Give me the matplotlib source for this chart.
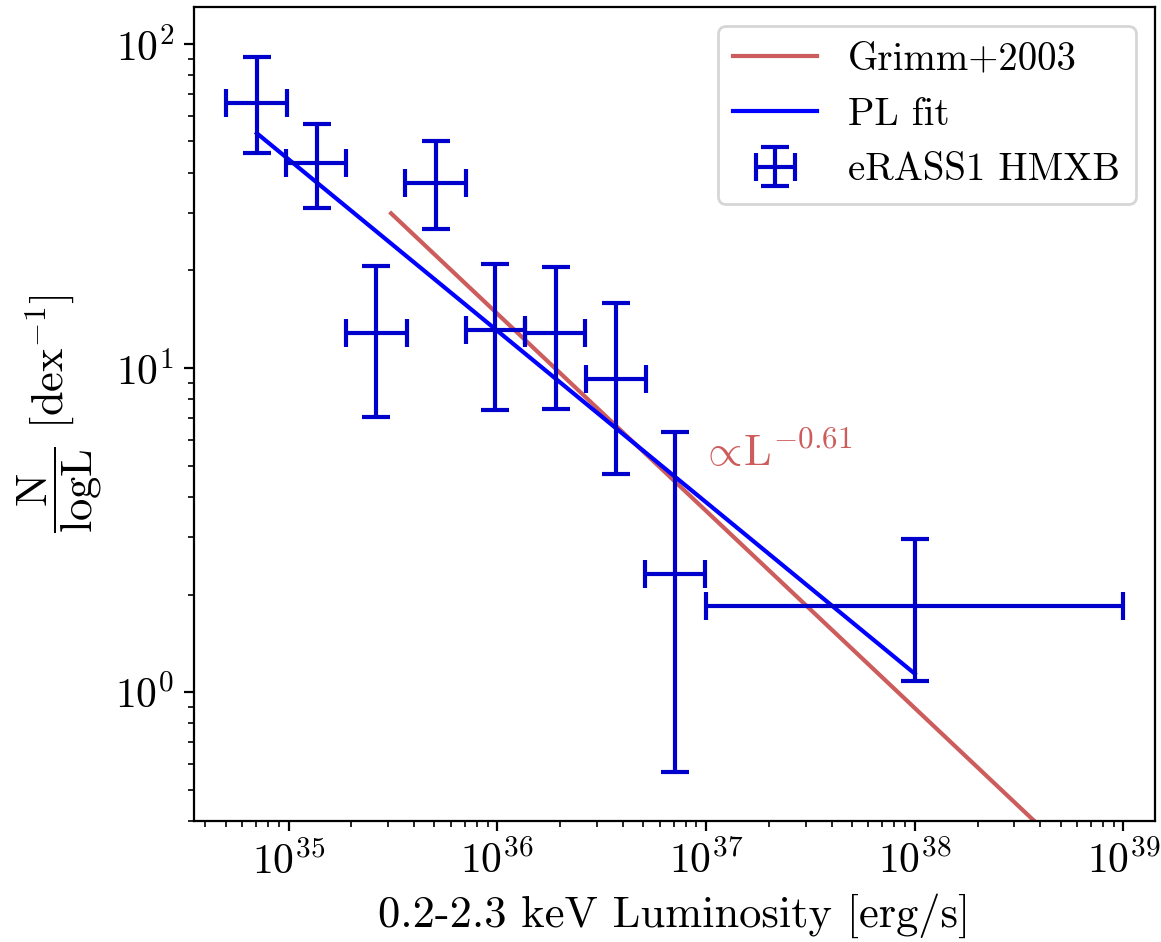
"""eRASS1 HMXB luminosity function vs. Grimm+2003."""

import matplotlib

matplotlib.use("Agg")
import matplotlib.pyplot as plt
import numpy as np

plt.rcParams["font.family"] = "serif"
plt.rcParams["font.serif"] = ["cmr10"]
plt.rcParams["mathtext.fontset"] = "cm"
plt.rcParams["axes.formatter.use_mathtext"] = True
plt.rcParams["axes.unicode_minus"] = False
plt.rcParams["font.size"] = 15

# binned luminosity function
lum_center = [7.05e34, 1.365e35, 2.62e35, 5.08e35, 9.78e35, 1.91e36, 3.70e36, 7.11e36, 1.0e38]
lum_lo = [5.01e34, 9.7e34, 1.89e35, 3.61e35, 7.06e35, 1.36e36, 2.65e36, 5.1e36, 1.0e37]
lum_hi = [9.8e34, 1.89e35, 3.69e35, 7.11e35, 1.36e36, 2.64e36, 5.15e36, 9.9e36, 1.0e39]
n_dex = [65.9, 42.8, 12.85, 37.1, 13.1, 12.85, 9.23, 2.32, 1.84]
n_lo = [46.2, 31.1, 7.08, 26.9, 7.41, 7.46, 4.70, 0.568, 1.08]
n_hi = [91.0, 56.5, 20.7, 50.3, 20.9, 20.5, 15.9, 6.35, 2.97]

# model lines (end points)
grimm_x = [3.1e35, 1.0e39]
grimm_y = [30.0, 0.22]
fit_x = [7.05e34, 1.0e38]
fit_y = [53.0, 1.14]

x = np.array(lum_center)
y = np.array(n_dex)
xerr = [x - np.array(lum_lo), np.array(lum_hi) - x]
yerr = [y - np.array(n_lo), np.array(n_hi) - y]

fig = plt.figure(figsize=(5.805, 4.71), dpi=200)
ax = fig.add_axes([0.167, 0.1284, 0.828, 0.8642])

ax.plot(grimm_x, grimm_y, color="indianred", lw=1.5, label="Grimm+2003")
ax.plot(fit_x, fit_y, color="blue", lw=1.5, label="PL fit")
ax.errorbar(x, y, xerr=xerr, yerr=yerr, fmt="none", ecolor="mediumblue",
            elinewidth=1.5, capsize=5, capthick=1.5, label="eRASS1 HMXB")

ax.text(0.94e37, 5.0, r"${\propto}\!\mathrm{L}^{-0.61}$", color="indianred",
        fontsize=16, va="baseline", ha="left")

ax.set_xscale("log")
ax.set_yscale("log")
ax.set_xlim(3.52e34, 1.42e39)
ax.set_ylim(0.40, 130)
ax.set_xlabel("0.2-2.3 keV Luminosity [erg/s]", fontsize=16)
ax.set_ylabel(r"$\dfrac{\mathrm{N}}{\mathrm{logL}}$ [dex$^{-1}$]", fontsize=16)
ax.legend(loc="upper right", fontsize=14, handlelength=2.15)

fig.savefig("out.png", dpi=200)
